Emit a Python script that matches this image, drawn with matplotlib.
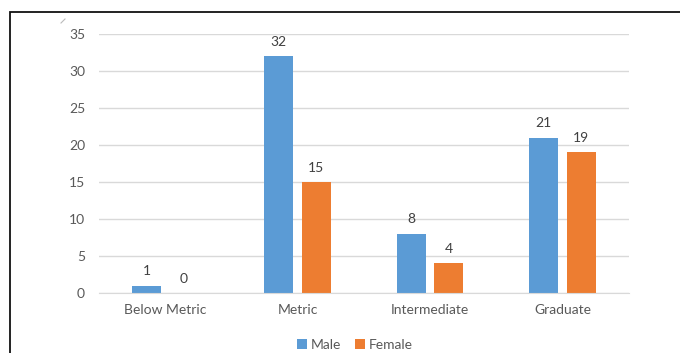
import matplotlib.pyplot as plt
import matplotlib.patches as patches
import numpy as np

# Data
categories = ["Below Metric", "Metric", "Intermediate", "Graduate"]
male = [1, 32, 8, 21]
female = [0, 15, 4, 19]
y_ticks = [0, 5, 10, 15, 20, 25, 30, 35]

blue = "#5B9BD5"
orange = "#ED7D31"
text_col = "#595959"

plt.rcParams['font.family'] = ['Lato', 'DejaVu Sans']

fig = plt.figure(figsize=(6.8, 3.53), dpi=100)
ax = fig.add_axes([0.1456, 0.170, 0.779, 0.7337])

x = np.arange(len(categories))
w = 0.22
off = 0.1415
b1 = ax.bar(x - off, male, w, color=blue, label="Male", zorder=2)
b2 = ax.bar(x + off, female, w, color=orange, label="Female", zorder=2)

# data labels
for bars, vals in [(b1, male), (b2, female)]:
    for rect, v in zip(bars, vals):
        ax.annotate(str(v), (rect.get_x() + rect.get_width() / 2, v),
                    xytext=(0, 6), textcoords="offset points",
                    ha="center", va="bottom", fontsize=10, color="#404040")

ax.set_xlim(-0.5, 3.5)
ax.set_ylim(0, 35)
ax.set_yticks(y_ticks)
ax.set_xticks(x)
ax.set_xticklabels(categories)
ax.tick_params(axis="both", length=0, labelsize=10, colors=text_col)
ax.tick_params(axis="y", pad=10)
ax.tick_params(axis="x", pad=8)
ax.grid(axis="y", color="#D9D9D9", linewidth=1, zorder=0)
for s in ["top", "right", "left"]:
    ax.spines[s].set_visible(False)
ax.spines["bottom"].set_color("#D9D9D9")

fig.legend(loc="center", bbox_to_anchor=(0.522, 0.023), ncol=2, frameon=False,
           fontsize=10, labelcolor=text_col, handlelength=0.7, handleheight=0.7,
           handletextpad=0.3, columnspacing=1.0)

# outer frame (cut off at right and bottom edges)
frame = patches.Rectangle((10 / 680, -0.1), 1.2, 1.1 - 12 / 353,
                          transform=fig.transFigure, fill=False,
                          edgecolor="#111111", linewidth=1.3, clip_on=False)
fig.patches.append(frame)

# small stray mark near top-left
fig.add_artist(plt.Line2D([61 / 680, 65 / 680], [1 - 23 / 353, 1 - 19 / 353],
                          transform=fig.transFigure, color="#BBBBBB", linewidth=0.8))

fig.savefig("out.png", dpi=100)
